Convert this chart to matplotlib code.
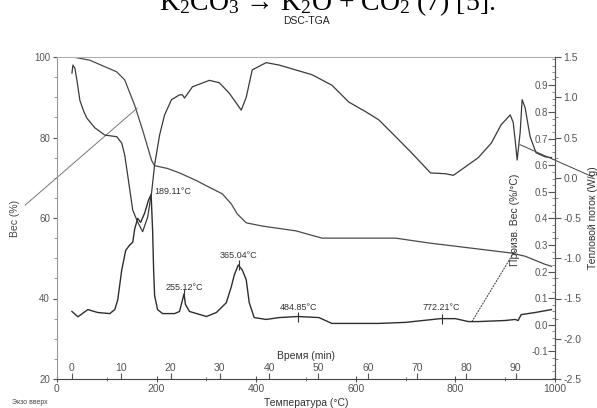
import numpy as np
import matplotlib
matplotlib.use("Agg")
import matplotlib.pyplot as plt
from matplotlib.ticker import MultipleLocator, FixedLocator, FormatStrFormatter

plt.rcParams['font.family'] = ['Liberation Sans', 'DejaVu Sans']
plt.rcParams['mathtext.fontset'] = 'custom'
plt.rcParams['mathtext.rm'] = 'Liberation Serif'
plt.rcParams['mathtext.it'] = 'Liberation Serif:italic'

# ---------------- data ----------------
# TGA: weight (%) vs temperature (°C)
tga_T = [32, 66, 120, 136, 156, 172, 190, 196, 222, 246, 280, 300, 332, 350, 362,
         380, 412, 480, 532, 646, 680, 746, 846, 912, 940, 980, 993]
tga_W = [100, 99.2, 96.3, 94.3, 88.0, 81.8, 74.3, 73.0, 72.3, 71.2, 69.3, 68.0, 66.0,
         63.5, 61.0, 58.8, 58.0, 56.8, 55.0, 55.0, 55.0, 53.8, 52.3, 51.3, 50.5, 48.5, 48.0]

# DSC: heat flow (W/g) vs temperature (°C)
dsc_T = [30, 32, 36, 40, 46, 54, 60, 76, 96, 120, 130, 136, 142, 152, 162, 172, 182,
         190, 196, 206, 216, 230, 246, 252, 256, 272, 306, 326, 346, 370, 380, 392,
         420, 446, 512, 552, 586, 620, 646, 680, 712, 750, 780, 796, 812, 846, 872,
         892, 910, 916, 920, 924, 930, 934, 940, 950, 962, 980, 993]
dsc_H = [1.30, 1.40, 1.36, 1.21, 0.96, 0.82, 0.74, 0.62, 0.53, 0.51, 0.43, 0.28, 0.03,
         -0.40, -0.55, -0.67, -0.49, -0.18, 0.16, 0.53, 0.78, 0.97, 1.03, 1.03, 0.99,
         1.13, 1.21, 1.18, 1.05, 0.84, 1.00, 1.34, 1.43, 1.40, 1.28, 1.15, 0.94, 0.82,
         0.72, 0.51, 0.31, 0.06, 0.05, 0.03, 0.10, 0.25, 0.43, 0.66, 0.78, 0.69, 0.47,
         0.22, 0.56, 0.97, 0.87, 0.51, 0.31, 0.26, 0.25]

# DTG: derivative weight (%/°C) vs temperature (°C)
dtg_T = [30, 42, 62, 82, 106, 116, 122, 130, 138, 146, 152, 156, 162, 168, 176, 184,
         189, 192, 194, 196, 202, 212, 236, 246, 252, 255, 258, 266, 300, 320, 340,
         350, 356, 364, 372, 380, 386, 396, 420, 446, 484, 526, 552, 646, 700, 770,
         800, 826, 846, 900, 920, 926, 932, 960, 993]
dtg_D = [0.050, 0.030, 0.057, 0.046, 0.042, 0.057, 0.094, 0.206, 0.280, 0.300, 0.310,
         0.360, 0.400, 0.385, 0.420, 0.470, 0.490, 0.355, 0.206, 0.110, 0.057, 0.042,
         0.042, 0.050, 0.094, 0.116, 0.076, 0.050, 0.031, 0.046, 0.083, 0.143, 0.187,
         0.225, 0.206, 0.169, 0.083, 0.027, 0.020, 0.027, 0.031, 0.027, 0.005, 0.005,
         0.009, 0.023, 0.023, 0.012, 0.012, 0.016, 0.020, 0.016, 0.038, 0.046, 0.057]

# labelled DTG peaks
peak_T = [189.11, 255.12, 365.04, 484.85, 772.21]
peak_D = [0.490, 0.116, 0.225, 0.031, 0.023]
peak_labels = ['189.11°C', '255.12°C', '365.04°C', '484.85°C', '772.21°C']

# construction (tangent) lines
tan1_T, tan1_W = [-64, 161], [63.2, 87.3]      # on weight axis
tan2_T, tan2_H = [930, 1076], [0.41, 0.01]     # on heat-flow axis
tan3_T, tan3_W = [833, 920], [34.2, 52.0]      # on weight axis

temp_ticks = [0, 200, 400, 600, 800, 1000]
time_ticks = [0, 10, 20, 30, 40, 50, 60, 70, 80, 90]
weight_ticks = [20, 40, 60, 80, 100]
dtg_ticks = [-0.1, 0.0, 0.1, 0.2, 0.3, 0.4, 0.5, 0.6, 0.7, 0.8, 0.9]
heat_ticks = [-2.5, -2.0, -1.5, -1.0, -0.5, 0.0, 0.5, 1.0, 1.5]

# ---------------- figure ----------------
W, H = 597, 408
fig = plt.figure(figsize=(W / 100, H / 100), dpi=100)
fig.patch.set_facecolor('white')

x0, x1, y0, y1 = 57, 555, 57, 379
ax = fig.add_axes([x0 / W, 1 - y1 / H, (x1 - x0) / W, (y1 - y0) / H])
ax_d = ax.twinx()
ax_h = ax.twinx()
for a in (ax_d, ax_h):
    a.patch.set_visible(False)

tick_col = '#555555'
fs = 7

# weight axis
ax.set_xlim(0, 1000)
ax.set_ylim(20, 100)
ax.set_xticks(temp_ticks)
ax.xaxis.set_minor_locator(MultipleLocator(100))
ax.set_yticks(weight_ticks)
ax.yaxis.set_minor_locator(MultipleLocator(5))
ax.tick_params(axis='y', which='major', direction='out', length=3, pad=2,
               labelsize=fs, colors=tick_col)
ax.tick_params(axis='y', which='minor', direction='out', length=2, colors='#888888')
ax.tick_params(axis='x', which='major', direction='inout', length=5, pad=1,
               labelsize=fs + 0.5, colors=tick_col)
ax.tick_params(axis='x', which='minor', direction='inout', length=3, colors='#666666')
ax.set_ylabel('Вес (%)', fontsize=7.5, color='#444444', labelpad=10)
ax.set_xlabel('Температура (°C)', fontsize=7.5, color='#333333', labelpad=3)
ax.spines['left'].set_color('#999999')
ax.spines['top'].set_color('#b0b0b0')
ax.spines['bottom'].set_color('#444444')
ax.spines['right'].set_visible(False)

# DTG axis (labels inside, left of right spine)
ax_d.set_ylim(-0.204, 1.007)
ax_d.yaxis.set_major_locator(FixedLocator(dtg_ticks))
ax_d.yaxis.set_minor_locator(MultipleLocator(0.025))
ax_d.yaxis.set_major_formatter(FormatStrFormatter('%.1f'))
ax_d.tick_params(axis='y', which='major', direction='in', length=5, pad=-5,
                 labelsize=fs, colors=tick_col)
ax_d.tick_params(axis='y', which='minor', direction='in', length=2.5, colors='#777777')
for lbl in ax_d.get_yticklabels():
    lbl.set_horizontalalignment('right')
for s in ('left', 'top', 'bottom'):
    ax_d.spines[s].set_visible(False)
ax_d.spines['right'].set_color('#555555')

# heat-flow axis
ax_h.set_ylim(-2.5, 1.5)
ax_h.yaxis.set_major_locator(FixedLocator(heat_ticks))
ax_h.yaxis.set_minor_locator(MultipleLocator(0.25))
ax_h.yaxis.set_major_formatter(FormatStrFormatter('%.1f'))
ax_h.tick_params(axis='y', which='major', direction='out', length=4, pad=2,
                 labelsize=fs + 0.5, colors=tick_col)
ax_h.tick_params(axis='y', which='minor', direction='out', length=2, colors='#777777')
for s in ('left', 'top', 'bottom'):
    ax_h.spines[s].set_visible(False)
ax_h.spines['right'].set_color('#555555')

# time axis drawn on the bottom spine, ticks and labels upward
sec = ax.secondary_xaxis('bottom', functions=(lambda T: (np.asarray(T) - 30) / 9.9,
                                              lambda t: np.asarray(t) * 9.9 + 30))
sec.xaxis.set_ticks_position('top')
sec.xaxis.set_label_position('top')
sec.set_xticks(time_ticks)
sec.tick_params(axis='x', direction='out', length=4, pad=0, labelsize=fs + 0.5,
                colors=tick_col)
sec.set_xlabel('Время (min)', fontsize=7.5, color='#333333', labelpad=3)
for s in sec.spines.values():
    s.set_visible(False)

# curves
ax.plot(tga_T, tga_W, color='#4a4a4a', lw=0.9)
ax_h.plot(dsc_T, dsc_H, color='#3a3a3a', lw=0.9)
ax_d.plot(dtg_T, dtg_D, color='#2e2e2e', lw=1.0)

# tangent lines
ax.plot(tan1_T, tan1_W, color='#777777', lw=0.7, clip_on=False)
ax_h.plot(tan2_T, tan2_H, color='#444444', lw=0.7, clip_on=False)
ax.plot(tan3_T, tan3_W, color='#333333', lw=0.7, ls=(0, (2, 1)))

# peak marks and labels
offs = [(3, 3), (0, 6), (0, 9), (0, 9), (0, 11)]
for i, (t, d, lab) in enumerate(zip(peak_T, peak_D, peak_labels)):
    if i > 0:
        ax_d.plot([t], [d], marker='|', ms=7, color='#333333', mew=0.8)
    dx, dy = offs[i]
    ax_d.annotate(lab, (t, d), xytext=(dx * 0.72, dy * 0.72), textcoords='offset points',
                  ha='left' if i == 0 else 'center', va='center', fontsize=6.5,
                  color='#333333')

# axis titles on the right
ax.text((515 - x0) / (x1 - x0), (y1 - 220) / (y1 - y0), 'Произв. Вес (%/°C)',
        transform=ax.transAxes, rotation=90, ha='center', va='center',
        fontsize=7.5, color='#333333')
fig.text(593 / W, 1 - 218 / H, 'Тепловой поток (W/g)', rotation=90, ha='center',
         va='center', fontsize=7.5, color='#333333')

# titles and notes
fig.text(306 / W, 1 - 21 / H, 'DSC-TGA', ha='center', va='center', fontsize=7.5,
         color='#222222')
fig.text(327 / W, 1 - 10 / H, r'K$_2$CO$_3$ → K$_2$O + CO$_2$ (7) [5].', ha='center',
         va='baseline', fontsize=20, color='black',
         family=['Liberation Serif', 'DejaVu Serif'])
fig.text(30 / W, 1 - 402 / H, 'Экзо вверх', ha='center', va='center', fontsize=5,
         color='#444444')

fig.savefig('out.png', dpi=100, facecolor='white')
